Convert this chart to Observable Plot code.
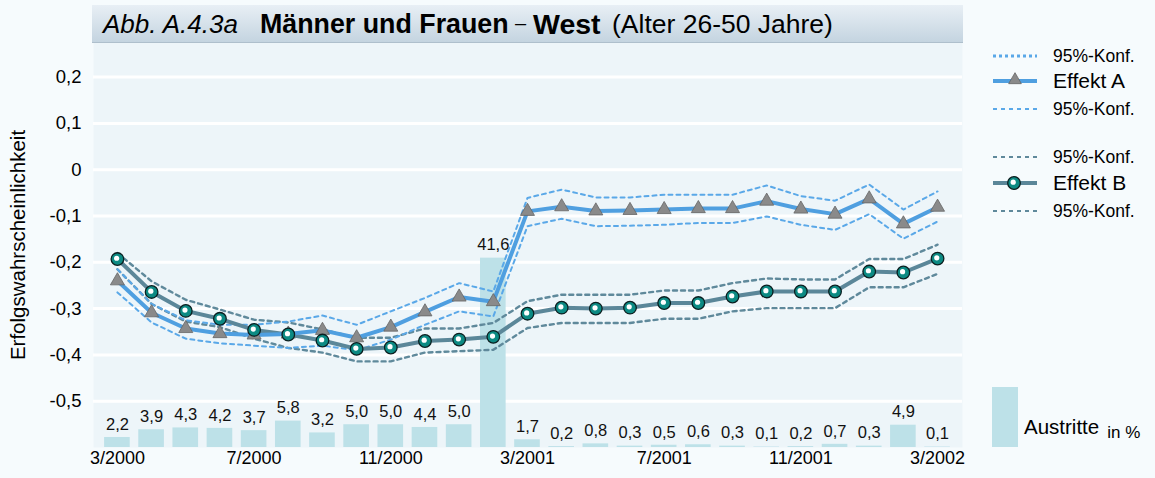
<!DOCTYPE html>
<html><head><meta charset="utf-8">
<script src="https://cdn.jsdelivr.net/npm/d3@7"></script>
<script src="https://cdn.jsdelivr.net/npm/@observablehq/plot@0.6"></script>
<style>
body{margin:0;background:#f6fbfd;font-family:"Liberation Sans",Arial,sans-serif;}
#wrap{position:relative;width:1155px;height:478px;overflow:hidden;}
#chart{position:absolute;left:0;top:0;}
#legend{position:absolute;left:0;top:0;}
.t{position:absolute;white-space:nowrap;color:#000;line-height:1;}
#titlebox{position:absolute;left:92px;top:5px;width:871px;height:37px;background:linear-gradient(#e8eff5,#c4d4e0);box-shadow:0 1px 0 #aebfcc;}
</style></head><body>
<div id="wrap">
  <div id="chart"></div>
  <div id="titlebox"></div>
  <span class="t" style="left:103px;top:11px;font-size:26px;font-style:italic;">Abb. A.4.3a</span>
  <span class="t" style="left:260px;top:11px;font-size:26.8px;font-weight:bold;">Männer und Frauen</span>
  <span class="t" style="left:515px;top:13px;font-size:20px;">–</span>
  <span class="t" style="left:533px;top:10px;font-size:28.5px;font-weight:bold;">West</span>
  <span class="t" style="left:612px;top:11px;font-size:26.5px;">(Alter 26-50 Jahre)</span>
  <span class="t" style="left:18px;top:245px;font-size:20.5px;transform:translate(-50%,-50%) rotate(-90deg);">Erfolgswahrscheinlichkeit</span>
  <svg id="legend" width="1155" height="478"></svg>
</div>
<script>
// ---- data ----
const monthLabels = ["3/2000","4/2000","5/2000","6/2000","7/2000","8/2000","9/2000","10/2000","11/2000","12/2000","1/2001","2/2001",
  "3/2001","4/2001","5/2001","6/2001","7/2001","8/2001","9/2001","10/2001","11/2001","12/2001","1/2002","2/2002","3/2002"];
const xTicks = [0,4,8,12,16,20,24];
const xTickLabels = ["3/2000","7/2000","11/2000","3/2001","7/2001","11/2001","3/2002"];
const yTicks = [0.2,0.1,0,-0.1,-0.2,-0.3,-0.4,-0.5];
const yTickLabels = ["0,2","0,1","0","-0,1","-0,2","-0,3","-0,4","-0,5"];

const effektA   = [-0.240,-0.309,-0.343,-0.354,-0.357,-0.355,-0.347,-0.363,-0.340,-0.307,-0.275,-0.285,-0.090,-0.080,-0.089,-0.088,-0.086,-0.084,-0.084,-0.068,-0.085,-0.096,-0.063,-0.117,-0.081];
const effektAHi = [-0.215,-0.290,-0.325,-0.335,-0.335,-0.328,-0.315,-0.335,-0.306,-0.277,-0.245,-0.263,-0.061,-0.043,-0.060,-0.060,-0.054,-0.054,-0.054,-0.034,-0.057,-0.067,-0.032,-0.086,-0.047];
const effektALo = [-0.265,-0.330,-0.365,-0.375,-0.380,-0.385,-0.380,-0.390,-0.367,-0.335,-0.306,-0.317,-0.122,-0.106,-0.122,-0.121,-0.119,-0.115,-0.115,-0.101,-0.119,-0.130,-0.096,-0.149,-0.112];
const effektB   = [-0.193,-0.264,-0.305,-0.322,-0.346,-0.356,-0.369,-0.387,-0.384,-0.370,-0.367,-0.361,-0.311,-0.298,-0.300,-0.298,-0.288,-0.288,-0.274,-0.263,-0.263,-0.263,-0.220,-0.222,-0.192];
const effektBHi = [-0.180,-0.241,-0.281,-0.302,-0.324,-0.330,-0.345,-0.363,-0.363,-0.343,-0.343,-0.331,-0.284,-0.270,-0.270,-0.270,-0.261,-0.261,-0.245,-0.235,-0.237,-0.237,-0.193,-0.193,-0.162];
const effektBLo = [-0.215,-0.290,-0.328,-0.340,-0.365,-0.385,-0.395,-0.414,-0.414,-0.395,-0.392,-0.389,-0.342,-0.331,-0.331,-0.331,-0.322,-0.322,-0.306,-0.299,-0.299,-0.299,-0.254,-0.254,-0.225];
const austritte = [2.2,3.9,4.3,4.2,3.7,5.8,3.2,5.0,5.0,4.4,5.0,41.6,1.7,0.2,0.8,0.3,0.5,0.6,0.3,0.1,0.2,0.7,0.3,4.9,0.1];

// ---- styling ----
const cA = "#4f9fe0", cACI = "#5aa8e8", cB = "#5b8799", cBCI = "#5f899b", cBar = "#bde1e8";
const BASE = -0.6, K = 0.00983; // bars share the plot: baseline at bottom, percent scaled
const fmt = v => v.toFixed(1).replace(".", ",");
const FONT = "Liberation Sans, Arial, sans-serif";

const rows = monthLabels.map((m, i) => ({
  i, m, a: effektA[i], aHi: effektAHi[i], aLo: effektALo[i],
  b: effektB[i], bHi: effektBHi[i], bLo: effektBLo[i], pct: austritte[i]
}));

const chart = Plot.plot({
  width: 1155, height: 478,
  marginLeft: 93, marginRight: 193, marginTop: 42, marginBottom: 31,
  style: {background: "transparent", fontFamily: FONT, color: "#000"},
  x: {type: "linear", domain: [-0.7, 24.73], axis: null},
  y: {domain: [-0.6, 0.2747], axis: null},
  marks: [
    Plot.frame({fill: "#edf5f9", stroke: "none"}),
    Plot.ruleY(yTicks, {stroke: "#ffffff", strokeWidth: 3}),
    Plot.rect(rows, {x1: d => d.i - 0.375, x2: d => d.i + 0.375, y1: BASE, y2: d => BASE + d.pct * K, fill: cBar}),
    Plot.text(rows, {x: "i", y: d => BASE + d.pct * K, text: d => fmt(d.pct), dy: -13, fontSize: 16.5, fill: "#111"}),
    Plot.line(rows, {x: "i", y: "bHi", stroke: cBCI, strokeWidth: 2.4, strokeDasharray: "4,4"}),
    Plot.line(rows, {x: "i", y: "bLo", stroke: cBCI, strokeWidth: 2.4, strokeDasharray: "4,4"}),
    Plot.line(rows, {x: "i", y: "aHi", stroke: cACI, strokeWidth: 2, strokeDasharray: "4,4"}),
    Plot.line(rows, {x: "i", y: "aLo", stroke: cACI, strokeWidth: 2, strokeDasharray: "4,4"}),
    Plot.line(rows, {x: "i", y: "b", stroke: cB, strokeWidth: 4}),
    Plot.line(rows, {x: "i", y: "a", stroke: cA, strokeWidth: 4}),
    Plot.dot(rows, {x: "i", y: "a", symbol: "triangle", r: 5.2, fill: "#8a8a8a", stroke: "#666", strokeWidth: 0.8}),
    Plot.dot(rows, {x: "i", y: "b", r: 6.3, fill: "#0c8a83", stroke: "#0b1f20", strokeWidth: 1.3}),
    Plot.dot(rows, {x: "i", y: "b", r: 2.6, fill: "#ffffff", stroke: "none", dx: -0.8, dy: -0.8}),
    // axis tick labels (through the plot's own x / y scales)
    Plot.text(yTicks, {y: d => d, text: (d, i) => yTickLabels[i], frameAnchor: "left", textAnchor: "end", dx: -12, fontSize: 18.5, fill: "#000"}),
    Plot.text(xTicks, {x: d => d, text: (d, i) => xTickLabels[i], frameAnchor: "bottom", dy: 16, fontSize: 18, fill: "#000"})
  ]
});
document.getElementById("chart").appendChild(chart);

// ---- legend ----
const lg = d3.select("#legend");
const items = [
  {y: 56, stroke: cACI, w: 3, dash: "3,3", text: "95%-Konf.", fs: 17.5},
  {y: 81, stroke: cA, w: 4, dash: null, text: "Effekt A", fs: 21, marker: "tri"},
  {y: 109, stroke: cACI, w: 2, dash: "4,4", text: "95%-Konf.", fs: 17.5},
  {y: 157, stroke: cBCI, w: 2, dash: "4,4", text: "95%-Konf.", fs: 17.5},
  {y: 183, stroke: cB, w: 4, dash: null, text: "Effekt B", fs: 21, marker: "circ"},
  {y: 211, stroke: cBCI, w: 2, dash: "4,4", text: "95%-Konf.", fs: 17.5}
];
for (const it of items) {
  lg.append("line").attr("x1", 993).attr("x2", 1037).attr("y1", it.y).attr("y2", it.y)
    .attr("stroke", it.stroke).attr("stroke-width", it.w).attr("stroke-dasharray", it.dash);
  if (it.marker === "tri") {
    lg.append("path").attr("d", d3.symbol(d3.symbolTriangle, 70)()).attr("transform", `translate(1015,${it.y - 1})`)
      .attr("fill", "#8a8a8a").attr("stroke", "#666").attr("stroke-width", 0.8);
  }
  if (it.marker === "circ") {
    lg.append("circle").attr("cx", 1014).attr("cy", it.y).attr("r", 6.3).attr("fill", "#0c8a83").attr("stroke", "#0b1f20").attr("stroke-width", 1.3);
    lg.append("circle").attr("cx", 1013.2).attr("cy", it.y - 0.8).attr("r", 2.6).attr("fill", "#fff");
  }
  lg.append("text").attr("x", 1053).attr("y", it.y).attr("dy", "0.35em").attr("font-size", it.fs)
    .attr("font-family", FONT).text(it.text);
}
lg.append("rect").attr("x", 992).attr("y", 387).attr("width", 26).attr("height", 60).attr("fill", cBar);
const at = lg.append("text").attr("x", 1024).attr("y", 434).attr("font-family", FONT);
at.append("tspan").attr("font-size", 20.5).text("Austritte");
at.append("tspan").attr("font-size", 17).attr("dx", 8).attr("dy", 4).text("in %");
</script>
</body></html>
